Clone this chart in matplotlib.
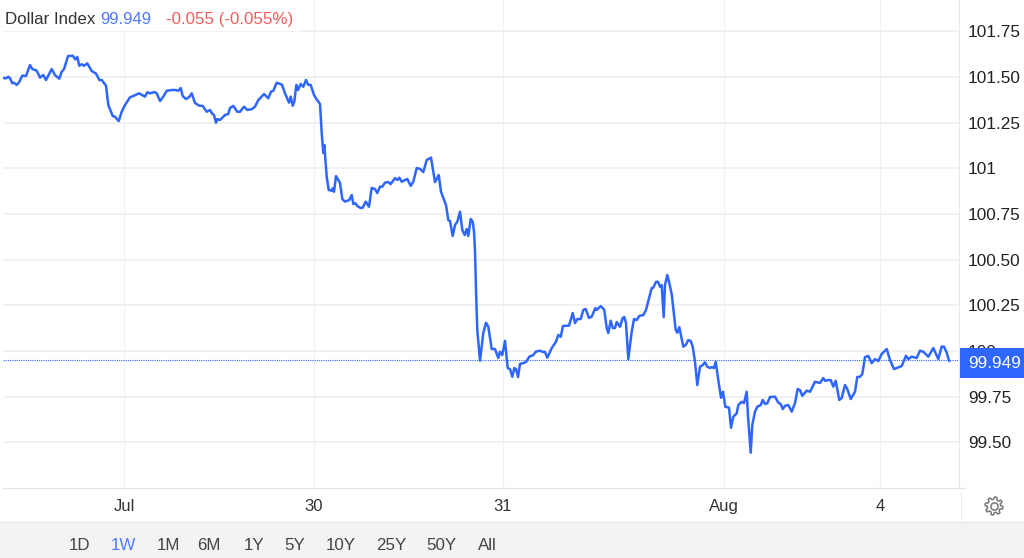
import numpy as np
import matplotlib
matplotlib.use("Agg")
import matplotlib.pyplot as plt
from matplotlib.patches import Rectangle, Polygon

# Data. Bars are an intraday index, sessions are not evenly long.
bars = [3.3, 6, 8.3, 10, 12.3, 14, 16.7, 19, 22.3, 26, 30, 32.3, 36.7, 40, 43.3, 46, 51.7, 55, 59.3, 61.7,
        64, 68, 72.7, 75.3, 77.3, 79.3, 81.7, 84, 87.3, 91.7, 96, 99.3, 101.7, 106, 108.3, 112.7, 115, 118.7, 121.7, 125,
        130, 134, 139, 145, 147.3, 150, 154.3, 156.7, 160, 163.3, 166.7, 171.7, 176, 178.3, 180.7, 182.7, 186, 189.3, 191.7, 193.3,
        195, 199.3, 202.7, 206.7, 210, 211.7, 214, 216, 217.3, 220, 225, 228.3, 230, 233.3, 237.3, 240, 244, 247.3, 251.7, 255,
        258.3, 264, 268.3, 271, 273.3, 276.7, 282, 285, 289, 290.7, 292.7, 294.3, 296.3, 298, 300.7, 303.3, 306, 308.3, 310.7, 314,
        316.7, 320, 321.7, 323.3, 324.3, 326.7, 328.7, 331.7, 332.7, 334, 336, 340, 342.3, 345, 349.3, 351.7, 353.3, 355.3, 357.3, 360.7,
        362.7, 365.7, 369, 371.7, 375, 377.3, 380, 382.3, 385, 388.3, 390.7, 395, 397.3, 399.3, 401.7, 407.3, 410.7, 413.3, 416.7, 420,
        423.3, 426.7, 431, 435, 438.7, 441, 443.3, 446, 448.3, 450, 452.7, 455, 457.3, 460, 462.3, 464.7, 466.7, 468.3, 470.7, 472.7,
        474, 475, 476, 477.3, 480, 483.3, 486, 488.3, 491.7, 495, 498.3, 500, 502.3, 505, 507.7, 510, 512.3, 514.3, 516, 518,
        520, 523.3, 526, 529.3, 533.3, 535.7, 540, 542.7, 545, 547.3, 551.7, 556, 558.3, 560.7, 563, 569, 572.7, 575, 577.3, 580.7,
        583.3, 585.7, 589, 591.7, 595.3, 596.7, 600.7, 604.3, 606.7, 608.3, 610.7, 612.7, 615, 616.7, 620, 622.7, 624.3, 626, 628.3, 631.7,
        634, 636.7, 639.3, 643.3, 646, 648.3, 651.7, 653.3, 656, 658, 660, 661.7, 663.7, 665, 667.3, 669, 671.7, 675.7, 677.3, 679.3,
        683.3, 685.7, 688.3, 690.7, 692.7, 695, 697.3, 700, 702.7, 705, 707.3, 710, 711.7, 714, 715.7, 718.3, 721, 723, 725.3, 729,
        731, 733.3, 736.7, 738.3, 741.7, 744, 746.7, 748, 750.7, 752.3, 755, 757.3, 760.7, 762.7, 765, 767.3, 770, 775, 778.3, 780.7,
        782.7, 785, 788.3, 791.7, 795, 797.7, 800, 802.3, 806.7, 810, 815, 820, 823.3, 825, 828.3, 830.7, 833.3, 835.7, 839.3, 841.7,
        845, 847.3, 850.7, 855, 857.3, 860, 862.3, 865, 868.3, 871.7, 875, 878.3, 881.7, 886.7, 890, 894, 901.7, 906, 908.3, 911.7,
        916.7, 920, 923.3, 928.3, 933.3, 938.3, 941.7, 944, 946.7, 949]

index_values = [101.495, 101.493, 101.502, 101.493, 101.466, 101.469, 101.457, 101.471, 101.508, 101.506, 101.566, 101.544, 101.535, 101.497, 101.511, 101.484, 101.544, 101.511, 101.491, 101.529,
                101.543, 101.615, 101.617, 101.597, 101.610, 101.562, 101.570, 101.562, 101.575, 101.533, 101.519, 101.484, 101.484, 101.453, 101.347, 101.287, 101.283, 101.259, 101.310, 101.347,
                101.389, 101.398, 101.411, 101.393, 101.417, 101.411, 101.418, 101.411, 101.369, 101.393, 101.425, 101.429, 101.429, 101.425, 101.440, 101.396, 101.380, 101.391, 101.411, 101.385,
                101.358, 101.343, 101.342, 101.310, 101.320, 101.303, 101.292, 101.250, 101.270, 101.265, 101.292, 101.298, 101.331, 101.342, 101.310, 101.310, 101.338, 101.320, 101.324, 101.338,
                101.374, 101.407, 101.384, 101.420, 101.425, 101.469, 101.458, 101.411, 101.360, 101.393, 101.343, 101.365, 101.457, 101.429, 101.462, 101.447, 101.484, 101.457, 101.457, 101.402,
                101.378, 101.353, 101.194, 101.084, 101.128, 100.954, 100.882, 100.878, 100.891, 100.872, 100.958, 100.920, 100.832, 100.818, 100.827, 100.854, 100.805, 100.810, 100.794, 100.783,
                100.785, 100.818, 100.790, 100.893, 100.887, 100.865, 100.900, 100.900, 100.922, 100.925, 100.914, 100.947, 100.936, 100.949, 100.927, 100.942, 100.904, 100.927, 101.002, 100.997,
                100.980, 101.046, 101.059, 100.925, 100.964, 100.872, 100.838, 100.799, 100.717, 100.712, 100.630, 100.690, 100.708, 100.763, 100.663, 100.635, 100.668, 100.630, 100.723, 100.708,
                100.653, 100.553, 100.334, 100.115, 99.947, 100.099, 100.155, 100.133, 100.011, 100.011, 99.962, 99.996, 99.978, 100.056, 99.907, 99.901, 99.859, 99.907, 99.901, 99.858,
                99.929, 99.934, 99.940, 99.969, 99.978, 99.996, 100.002, 99.995, 99.995, 99.963, 100.016, 100.051, 100.088, 100.078, 100.137, 100.139, 100.208, 100.153, 100.175, 100.175,
                100.225, 100.230, 100.181, 100.188, 100.235, 100.225, 100.246, 100.225, 100.126, 100.099, 100.166, 100.126, 100.126, 100.159, 100.133, 100.181, 100.186, 100.153, 99.956, 100.106,
                100.175, 100.170, 100.192, 100.197, 100.225, 100.274, 100.345, 100.347, 100.379, 100.379, 100.352, 100.361, 100.186, 100.361, 100.416, 100.379, 100.312, 100.115, 100.100, 100.131,
                100.024, 100.033, 100.060, 100.055, 100.024, 99.941, 99.814, 99.914, 99.923, 99.938, 99.914, 99.907, 99.912, 99.907, 99.941, 99.841, 99.744, 99.777, 99.695, 99.690,
                99.580, 99.640, 99.659, 99.704, 99.722, 99.715, 99.777, 99.644, 99.443, 99.595, 99.668, 99.695, 99.704, 99.732, 99.710, 99.714, 99.748, 99.750, 99.717, 99.710,
                99.682, 99.700, 99.704, 99.668, 99.715, 99.792, 99.786, 99.755, 99.783, 99.777, 99.832, 99.825, 99.852, 99.837, 99.841, 99.841, 99.805, 99.837, 99.732, 99.743,
                99.814, 99.792, 99.737, 99.777, 99.858, 99.859, 99.874, 99.967, 99.973, 99.934, 99.956, 99.945, 99.984, 100.011, 99.951, 99.901, 99.918, 99.974, 99.956, 99.969,
                99.962, 100.002, 99.996, 99.969, 100.016, 99.956, 100.024, 100.024, 99.991, 99.947]

last_value = 99.949
y_ticks = [101.75, 101.5, 101.25, 101, 100.75, 100.5, 100.25, 100, 99.75, 99.5]
y_labels = ["101.75", "101.50", "101.25", "101", "100.75", "100.50", "100.25", "100", "99.75", "99.50"]
x_ticks = [124, 314, 503, 724, 880]
x_labels = ["Jul", "30", "31", "Aug", "4"]
ranges = ["1D", "1W", "1M", "6M", "1Y", "5Y", "10Y", "25Y", "50Y", "All"]
range_px = [79, 123, 168, 209, 254, 295, 341, 391, 441, 487]

W, H = 1024, 558
BLUE = "#2f66ff"
plt.rcParams["font.family"] = ["Liberation Sans", "DejaVu Sans"]


def fx(px):
    return px / W


def fy(py):
    return 1 - py / H


fig = plt.figure(figsize=(W / 100, H / 100), dpi=100, facecolor="white")
ax = fig.add_axes([fx(3), fy(488), fx(956), 488 / H])
ax.set_xlim(3, 959)
ax.set_ylim(99.25, 101.922)

ax.plot(bars, index_values, color=BLUE, lw=1.8, zorder=3, solid_joinstyle="round")
ax.axhline(last_value, color=BLUE, lw=0.8, ls=(0, (1, 1)), zorder=2)

ax.yaxis.tick_right()
ax.set_yticks(y_ticks)
ax.set_yticklabels(y_labels)
ax.set_xticks(x_ticks)
ax.set_xticklabels(x_labels)
ax.tick_params(axis="y", length=0, pad=6.5, labelsize=12.4, labelcolor="#222222")
ax.tick_params(axis="x", length=0, pad=16.5, labelsize=12, labelcolor="#333333")
for tick_label in ax.get_xticklabels():
    tick_label.set_verticalalignment("baseline")
ax.grid(axis="y", color="#eeeeee", lw=1.1, zorder=0)
ax.grid(axis="x", color="#eef2f5", lw=0.8, zorder=0)
ax.set_axisbelow(True)

for side in ["top", "left"]:
    ax.spines[side].set_visible(False)
ax.spines["right"].set_color("#e6e8ea")
ax.spines["right"].set_linewidth(0.8)
ax.spines["bottom"].set_color("#e0e3e8")
ax.spines["bottom"].set_linewidth(0.9)

# white box behind the header, hides the grid there
fig.add_artist(Rectangle((fx(3), fy(31)), fx(297), 31 / H, transform=fig.transFigure,
                         fc="white", ec="none", zorder=4))
header_y = fy(19.5)
fig.text(fx(5), header_y, "Dollar Index", color="#333333", fontsize=12.2, va="center", zorder=5)
fig.text(fx(100), header_y, "99.949", color="#5078ff", fontsize=12.2, va="center", zorder=5)
fig.text(fx(166), header_y, "-0.055 (-0.055%)", color="#f25c5c", fontsize=12.2, va="center", zorder=5)

# last price tag
fig.add_artist(Rectangle((fx(960), fy(378)), fx(64), 30 / H, transform=fig.transFigure,
                         fc=BLUE, ec="none", zorder=4))
fig.text(fx(994.5), fy(364), "99.949", color="white", fontsize=12.4, ha="center", va="center", zorder=5)

# range selector strip
fig.add_artist(Rectangle((0, 0), 1, 36 / H, transform=fig.transFigure, fc="#f3f3f3", ec="none", zorder=1))
fig.add_artist(plt.Line2D([0, 1], [fy(522), fy(522)], color="#e8e8ea", lw=0.9, zorder=2))
for label, px in zip(ranges, range_px):
    col = "#5078ff" if label == "1W" else "#444444"
    fig.text(fx(px), fy(545), label, color=col, fontsize=12.2, ha="center", va="center", zorder=5)

# small bits round the corner
fig.add_artist(plt.Line2D([fx(959), fx(965)], [fy(488), fy(488)], color="#e0e3e8", lw=0.9))
fig.add_artist(plt.Line2D([fx(960.5), fx(960.5)], [fy(493), fy(522)], color="#eeeeee", lw=0.8))

# settings gear
angles = np.linspace(0, 2 * np.pi, 48, endpoint=False)
radii = np.where((np.arange(48) + 1) % 6 < 3, 9.0, 6.6)
gear_x = 994 + radii * np.cos(angles + 0.2)
gear_y = 506 + radii * np.sin(angles + 0.2)
fig.add_artist(Polygon(np.column_stack([gear_x / W, 1 - gear_y / H]), closed=True, transform=fig.transFigure,
                       fc="none", ec="#777777", lw=1.1, joinstyle="round"))
fig.add_artist(plt.Line2D([fx(994)], [fy(506)], marker="o", ms=5.2, mfc="none", mec="#777777", mew=1.1))

fig.savefig("out.png", dpi=100, facecolor="white")
